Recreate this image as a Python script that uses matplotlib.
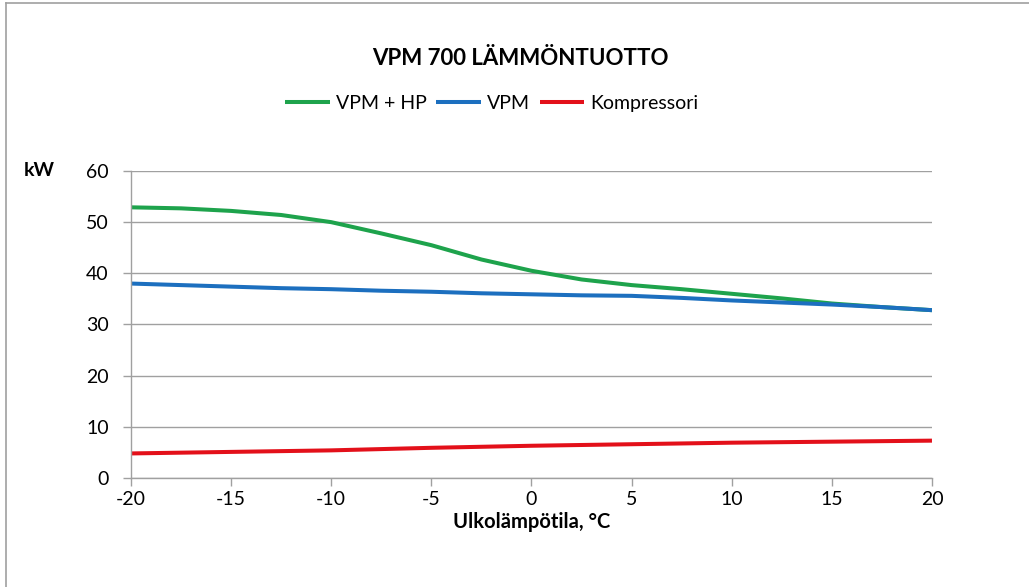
import matplotlib.pyplot as plt
from matplotlib.lines import Line2D

plt.rcParams['font.family'] = ['Lato', 'DejaVu Sans']

# Data (ulkolämpötila in °C, power in kW)
temps = [-20, -17.5, -15, -12.5, -10, -7.5, -5, -2.5, 0, 2.5, 5, 7.5, 10, 12.5, 15, 17.5, 20]
vpm_hp = [52.9, 52.7, 52.2, 51.4, 50.0, 47.8, 45.5, 42.7, 40.5, 38.8, 37.7, 36.9, 36.0, 35.1, 34.1, 33.4, 32.8]
vpm = [38.0, 37.7, 37.4, 37.1, 36.9, 36.6, 36.4, 36.1, 35.9, 35.7, 35.6, 35.2, 34.7, 34.3, 33.9, 33.4, 32.8]
kompressori = [4.8, 4.95, 5.1, 5.25, 5.4, 5.65, 5.9, 6.1, 6.3, 6.45, 6.6, 6.75, 6.9, 7.0, 7.1, 7.2, 7.3]

series = [("VPM + HP", vpm_hp, "#1ea34c"),
          ("VPM", vpm, "#1c6fbf"),
          ("Kompressori", kompressori, "#e3101a")]

x_ticks = [-20, -15, -10, -5, 0, 5, 10, 15, 20]
y_ticks = [0, 10, 20, 30, 40, 50, 60]

fig = plt.figure(figsize=(10.29, 5.87), dpi=100)
ax = fig.add_axes([0.1273, 0.1857, 0.7784, 0.523])

grid_col = "#a0a0a0"
for label, vals, col in series:
    ax.plot(temps, vals, color=col, lw=2.9, label=label,
            solid_capstyle="butt", solid_joinstyle="round")

ax.set_xlim(-20, 20)
ax.set_ylim(0, 60)
ax.set_xticks(x_ticks)
ax.set_xticklabels([str(t) for t in x_ticks])
ax.set_yticks(y_ticks)
ax.yaxis.grid(True, color=grid_col, lw=1.0)
ax.set_axisbelow(True)
for s in ["top", "right"]:
    ax.spines[s].set_visible(False)
for s in ["left", "bottom"]:
    ax.spines[s].set_color(grid_col)
    ax.spines[s].set_linewidth(1.0)
ax.tick_params(axis="both", direction="out", length=6, width=1.0, color=grid_col,
               labelsize=14, labelcolor="black")
ax.tick_params(axis="y", pad=10)
ax.tick_params(axis="x", pad=3.5)

ax.set_xlabel("Ulkolämpötila, °C", fontsize=14.5, fontweight="bold", labelpad=3)
fig.text(0.023, 0.710, "kW", fontsize=14, fontweight="bold", va="center", ha="left")

fig.text(0.506, 0.900, "VPM 700 LÄMMÖNTUOTTO", fontsize=16, fontweight="bold",
         ha="center", va="center")

fig.legend(loc="center", bbox_to_anchor=(0.478, 0.824), ncol=3, frameon=False,
           fontsize=14, handlelength=2.3, handletextpad=0.3, columnspacing=0.5)

# partial chart-area border (left and top edges)
fig.add_artist(Line2D([0.006, 0.006], [0.0, 0.995], color=grid_col, lw=1.2))
fig.add_artist(Line2D([0.006, 1.0], [0.995, 0.995], color=grid_col, lw=1.2))

fig.savefig("out.png", dpi=100, facecolor="white")
